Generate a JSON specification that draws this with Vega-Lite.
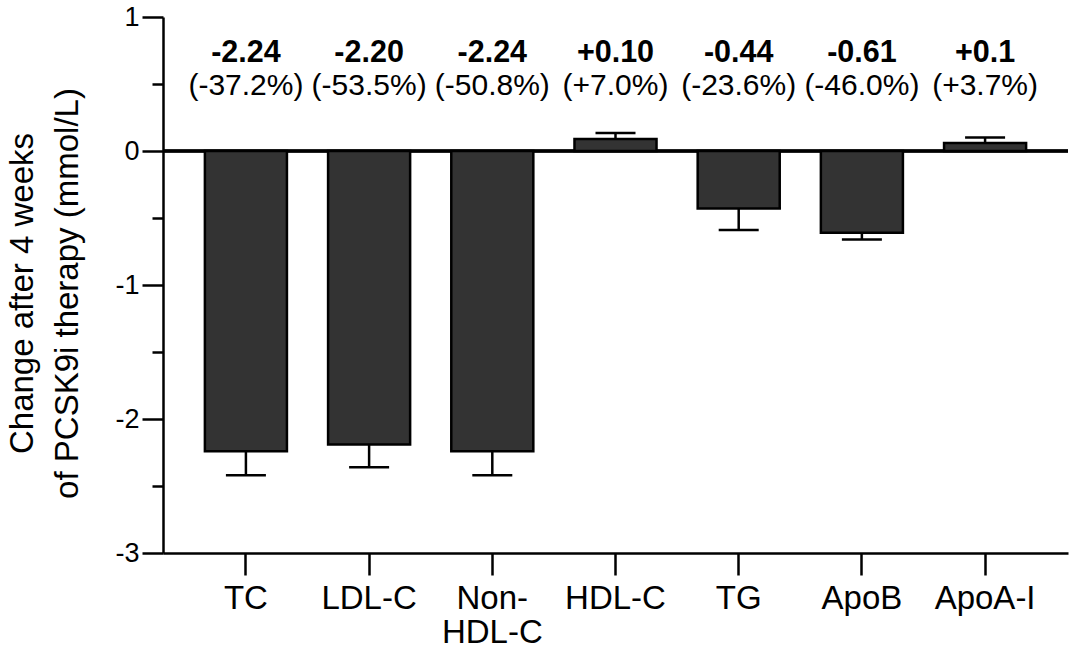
{
  "$schema": "https://vega.github.io/schema/vega-lite/v6.json",
  "autosize": "none",
  "width": 905,
  "height": 536,
  "padding": {"left": 163, "top": 17, "right": 2, "bottom": 99},
  "background": "white",
  "config": {
    "view": {"stroke": null},
    "font": "Liberation Sans"
  },
  "data": {
    "values": [
      {"cat": "TC", "value": -2.24, "err": -2.42, "delta": "-2.24", "pct": "(-37.2%)"},
      {"cat": "LDL-C", "value": -2.19, "err": -2.36, "delta": "-2.20", "pct": "(-53.5%)"},
      {"cat": "Non-HDL-C", "value": -2.24, "err": -2.42, "delta": "-2.24", "pct": "(-50.8%)"},
      {"cat": "HDL-C", "value": 0.09, "err": 0.134, "delta": "+0.10", "pct": "(+7.0%)"},
      {"cat": "TG", "value": -0.43, "err": -0.59, "delta": "-0.44", "pct": "(-23.6%)"},
      {"cat": "ApoB", "value": -0.61, "err": -0.66, "delta": "-0.61", "pct": "(-46.0%)"},
      {"cat": "ApoA-I", "value": 0.06, "err": 0.10, "delta": "+0.1", "pct": "(+3.7%)"}
    ]
  },
  "encoding": {
    "x": {
      "field": "cat",
      "type": "nominal",
      "sort": null,
      "scale": {"paddingInner": 0.334, "paddingOuter": 0.34},
      "axis": {
        "title": null,
        "labelAngle": 0,
        "labelFont": "Liberation Sans",
        "labelFontSize": 33,
        "labelColor": "black",
        "labelLineHeight": 34,
        "labelPadding": 7,
        "labelExpr": "datum.label == 'Non-HDL-C' ? ['Non-', 'HDL-C'] : datum.label",
        "tickSize": 22,
        "tickWidth": 2.5,
        "tickColor": "black",
        "domainWidth": 2.5,
        "domainColor": "black",
        "grid": false
      }
    }
  },
  "layer": [
    {
      "mark": {"type": "rule", "color": "black", "strokeWidth": 2.5},
      "encoding": {"x": {"value": 0}, "x2": {"value": 905}, "y": {"datum": 0, "type": "quantitative"}}
    },
    {
      "mark": {"type": "bar", "fill": "#333333", "stroke": "black", "strokeWidth": 2.5},
      "encoding": {
        "y": {
          "field": "value",
          "type": "quantitative",
          "scale": {"domain": [-3, 1], "nice": false},
          "axis": {
            "title": ["Change after 4 weeks", "of PCSK9i therapy (mmol/L)"],
            "titleFont": "Liberation Sans",
            "titleFontSize": 33,
            "titleFontWeight": "normal",
            "titleColor": "black",
            "titleLineHeight": 45,
            "titleBaseline": "alphabetic",
            "titleAngle": 270,
            "titleX": -131,
            "titleY": 276,
            "titleAlign": "center",
            "values": [-3, -2.5, -2, -1.5, -1, -0.5, 0, 0.5, 1],
            "labelExpr": "datum.value % 1 == 0 ? toString(datum.value) : ''",
            "labelFont": "Liberation Sans",
            "labelFontSize": 27,
            "labelColor": "black",
            "labelPadding": 3,
            "tickSize": {"condition": {"test": "datum.value % 1 != 0", "value": 11}, "value": 21},
            "tickWidth": 2.5,
            "tickColor": "black",
            "domainWidth": 2.5,
            "domainColor": "black",
            "grid": false
          }
        }
      }
    },
    {
      "mark": {"type": "rule", "color": "black", "strokeWidth": 2.5},
      "encoding": {"y": {"field": "value", "type": "quantitative"}, "y2": {"field": "err"}}
    },
    {
      "mark": {"type": "tick", "color": "black", "size": 40, "thickness": 2.5, "opacity": 1},
      "encoding": {"y": {"field": "err", "type": "quantitative"}}
    },
    {
      "mark": {"type": "text", "font": "Liberation Sans", "fontSize": 30.5, "fontWeight": "bold", "baseline": "alphabetic", "color": "black"},
      "encoding": {"y": {"datum": 0.664, "type": "quantitative"}, "text": {"field": "delta"}}
    },
    {
      "mark": {"type": "text", "font": "Liberation Sans", "fontSize": 30, "baseline": "alphabetic", "color": "black"},
      "encoding": {"y": {"datum": 0.418, "type": "quantitative"}, "text": {"field": "pct"}}
    }
  ]
}
